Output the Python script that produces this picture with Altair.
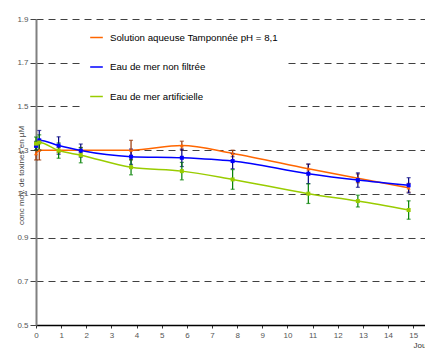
import altair as alt
import pandas as pd

series_names = ["Solution aqueuse Tamponnée pH = 8,1", "Eau de mer non filtrée", "Eau de mer artificielle"]
days = [0, 0.13, 0.9, 1.78, 3.78, 5.8, 7.82, 10.83, 12.8, 14.82]
orange_vals = [1.285, 1.30, 1.30, 1.30, 1.30, 1.321, 1.285, 1.215, 1.171, 1.128]
orange_err = [0.03, 0.045, 0.012, 0.012, 0.045, 0.02, 0.015, 0.02, 0.02, 0.02]
blue_vals = [1.32, 1.345, 1.321, 1.298, 1.27, 1.265, 1.25, 1.192, 1.163, 1.139]
blue_err = [0.02, 0.045, 0.04, 0.03, 0.035, 0.04, 0.035, 0.045, 0.033, 0.035]
green_vals = [1.33, 1.335, 1.298, 1.277, 1.222, 1.204, 1.166, 1.101, 1.067, 1.026]
green_err = [0.03, 0.035, 0.035, 0.035, 0.035, 0.04, 0.045, 0.045, 0.027, 0.042]
y_ticks = [0.5, 0.7, 0.9, 1.1, 1.3, 1.5, 1.7, 1.9]
x_ticks = list(range(16))

rows = []
for name, vals, errs in zip(series_names, [orange_vals, blue_vals, green_vals], [orange_err, blue_err, green_err]):
    for d, v, e in zip(days, vals, errs):
        rows.append({"serie": name, "jour": d, "conc": v, "lo": v - e, "hi": v + e})
df = pd.DataFrame(rows)

line_colors = ["#FF6600", "#0000FF", "#99CC00"]
err_colors = ["#993300", "#000080", "#008000"]
FONT = "Liberation Sans"

xscale = alt.Scale(domain=[0, 15.47], nice=False, zero=False)
xaxis = alt.Axis(values=x_ticks, tickCount=16, title="Jours", titleX=377, titleY=22, titleAlign="left",
                 titleBaseline="alphabetic", titleFontWeight="normal", titleFontSize=8,
                 titleFont=FONT, titleColor="#333333",
                 labelFont=FONT, labelFontSize=8, labelColor="#555555", labelPadding=3,
                 labelOverlap=False, labelFlush=False, labelBound=False,
                 tickSize=3, tickColor="#333333", domainColor="#000000", domainWidth=1.5,
                 grid=False)
yscale = alt.Scale(domain=[0.5, 1.9], nice=False, zero=False)
yaxis = alt.Axis(values=y_ticks, format=".1f", title="conc moy. de toxines en µM",
                 titleX=-13, titleY=156, titleAngle=270, titleAlign="center",
                 titleBaseline="alphabetic", titleFontWeight="normal", titleFontSize=8,
                 titleFont=FONT, titleColor="#444444",
                 labelFont=FONT, labelFontSize=8, labelColor="#555555", labelPadding=2,
                 labelOverlap=False, labelFlush=False,
                 tickSize=6, tickColor="#444444", domainColor="#808080", domainWidth=2,
                 grid=True, gridColor="#404040", gridDash=[7, 5], gridWidth=1)

xenc = alt.X("jour:Q", scale=xscale, axis=xaxis)

lines = alt.Chart(df).mark_line(interpolate="monotone", strokeWidth=1.5).encode(
    x=xenc, y=alt.Y("conc:Q", scale=yscale, axis=yaxis),
    color=alt.Color("serie:N", sort=series_names,
                    scale=alt.Scale(domain=series_names, range=line_colors),
                    legend=alt.Legend(title=None, orient="none", legendX=45, legendY=3,
                                      fillColor="white", padding=8, rowPadding=16.5,
                                      symbolType="stroke", symbolStrokeWidth=1.5, symbolSize=160,
                                      labelFont=FONT, labelFontSize=9.7, labelColor="#000000",
                                      labelOffset=6, labelLimit=300)))

errs = alt.Chart(df).mark_errorbar(ticks=alt.MarkConfig(size=4), thickness=1.2).encode(
    x=xenc,
    y=alt.Y("lo:Q", scale=yscale, axis=yaxis),
    y2="hi:Q",
    color=alt.Color("serie:N", scale=alt.Scale(domain=series_names, range=err_colors), legend=None))

points = alt.Chart(df).mark_point(filled=True, opacity=1, size=16).encode(
    x=xenc, y=alt.Y("conc:Q", scale=yscale, axis=yaxis),
    shape=alt.Shape("serie:N", scale=alt.Scale(domain=series_names, range=["triangle-up", "square", "square"]), legend=None),
    color=alt.Color("serie:N", scale=alt.Scale(domain=series_names, range=line_colors), legend=None))

chart = alt.layer(lines, errs, points).resolve_scale(color="independent").properties(
    width=389, height=306,
    autosize=alt.AutoSizeParams(type="none"),
    padding={"left": 36, "top": 19, "right": 0, "bottom": 23},
    background="white",
).configure_view(stroke=None)

chart.save("out.html", embed_options={"renderer": "svg", "actions": False})
